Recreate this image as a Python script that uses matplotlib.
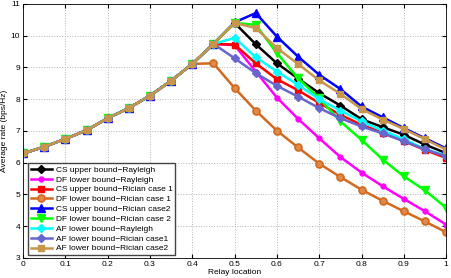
import numpy as np
import matplotlib
matplotlib.use('Agg')
import matplotlib.pyplot as plt

plt.rcParams['font.family'] = ['Liberation Sans', 'DejaVu Sans']

# relay location 0:0.05:1
x = np.round(np.arange(0, 1.0001, 0.05), 2)

# all curves share the same values up to 0.45
common = [6.29, 6.50, 6.75, 7.02, 7.40, 7.72, 8.11, 8.58, 9.11, 9.74]

cs_ray    = common + [10.40, 9.73, 9.13, 8.65, 8.19, 7.80, 7.37, 7.12, 6.88, 6.57, 6.30]
df_ray    = common + [9.70, 8.87, 8.05, 7.38, 6.77, 6.18, 5.69, 5.26, 4.86, 4.47, 4.05]
cs_ric1   = common + [9.72, 9.13, 8.63, 8.28, 7.88, 7.51, 7.19, 6.95, 6.68, 6.40, 6.15]
df_ric1   = common[:9] + [9.13, 8.35, 7.64, 7.01, 6.48, 5.97, 5.55, 5.15, 4.80, 4.47, 4.15, 3.81]
cs_ric2   = common + [10.42, 10.71, 9.97, 9.34, 8.77, 8.32, 7.77, 7.43, 7.09, 6.77, 6.45]
df_ric2   = common + [10.40, 10.34, 9.45, 8.66, 8.03, 7.30, 6.72, 6.10, 5.57, 5.13, 4.58]
af_ray    = common + [9.93, 9.32, 8.87, 8.45, 8.00, 7.64, 7.30, 7.01, 6.74, 6.43, 6.22]
af_ric1   = common + [9.29, 8.82, 8.42, 8.08, 7.72, 7.40, 7.14, 6.92, 6.68, 6.42, 6.20]
af_ric2   = common + [10.40, 10.24, 9.61, 9.11, 8.59, 8.17, 7.69, 7.36, 7.06, 6.74, 6.41]

labels = ['CS upper bound\u2212Rayleigh', 'DF lower bound\u2212Rayleigh',
          'CS upper bound\u2212Rician case 1', 'DF lower bound\u2212Rician case 1',
          'CS upper bound\u2212Rician case2', 'DF lower bound\u2212Rician case 2',
          'AF lower bound\u2212Rayleigh', 'AF lower bound\u2212Rician case1',
          'AF lower bound\u2212Rician case2']

series = [cs_ray, df_ray, cs_ric1, df_ric1, cs_ric2, df_ric2, af_ray, af_ric1, af_ric2]
colors = ['black', '#ff00ff', '#ff0000', '#d2691e', '#0000ff', '#00ff00',
          '#00ffff', '#6666cc', '#c8964b']
markers = ['D', 'o', 's', 'o', '^', 'v', 'D', 'D', 's']
msizes = [4.5, 3.5, 4.5, 5, 5.5, 5.5, 4.5, 4.5, 4.5]

fig = plt.figure(figsize=(4.52, 2.78), dpi=100)
ax = fig.add_axes([0.051, 0.072, 0.936, 0.914])

for y, lab, c, m, ms in zip(series, labels, colors, markers, msizes):
    if lab.startswith('DF lower bound\u2212Rician case 1'):
        ax.plot(x, y, color=c, marker=m, ms=ms, lw=1.8, mfc='#e08a4a', mec=c, mew=1.2, label=lab)
    else:
        ax.plot(x, y, color=c, marker=m, ms=ms, lw=1.8, label=lab)

ax.set_xlim(0, 1)
ax.set_ylim(3, 11)
ax.set_xticks(np.arange(0, 1.01, 0.1))
ax.set_xticklabels(['0', '0.1', '0.2', '0.3', '0.4', '0.5', '0.6', '0.7', '0.8', '0.9', '1'])
ax.set_yticks(range(3, 12))
ax.tick_params(direction='in', labelsize=6, length=3, top=True, right=True, pad=2)
ax.grid(True, linestyle=':', color='#b5b5b5', lw=0.7)
for s in ax.spines.values():
    s.set_linewidth(0.6)

ax.set_xlabel('Relay location', fontsize=6, labelpad=1)
ax.set_ylabel('Average rate (bps/Hz)', fontsize=6, labelpad=2)

leg = ax.legend(loc='lower left', fontsize=6, handlelength=2.6, labelspacing=0.24,
                borderpad=0.3, handletextpad=0.4, fancybox=False, framealpha=1,
                borderaxespad=0.0, bbox_to_anchor=(0.012, 0.012))
leg.get_frame().set_edgecolor('#444444')
leg.get_frame().set_linewidth(1.0)

fig.savefig('out.png', dpi=100)
